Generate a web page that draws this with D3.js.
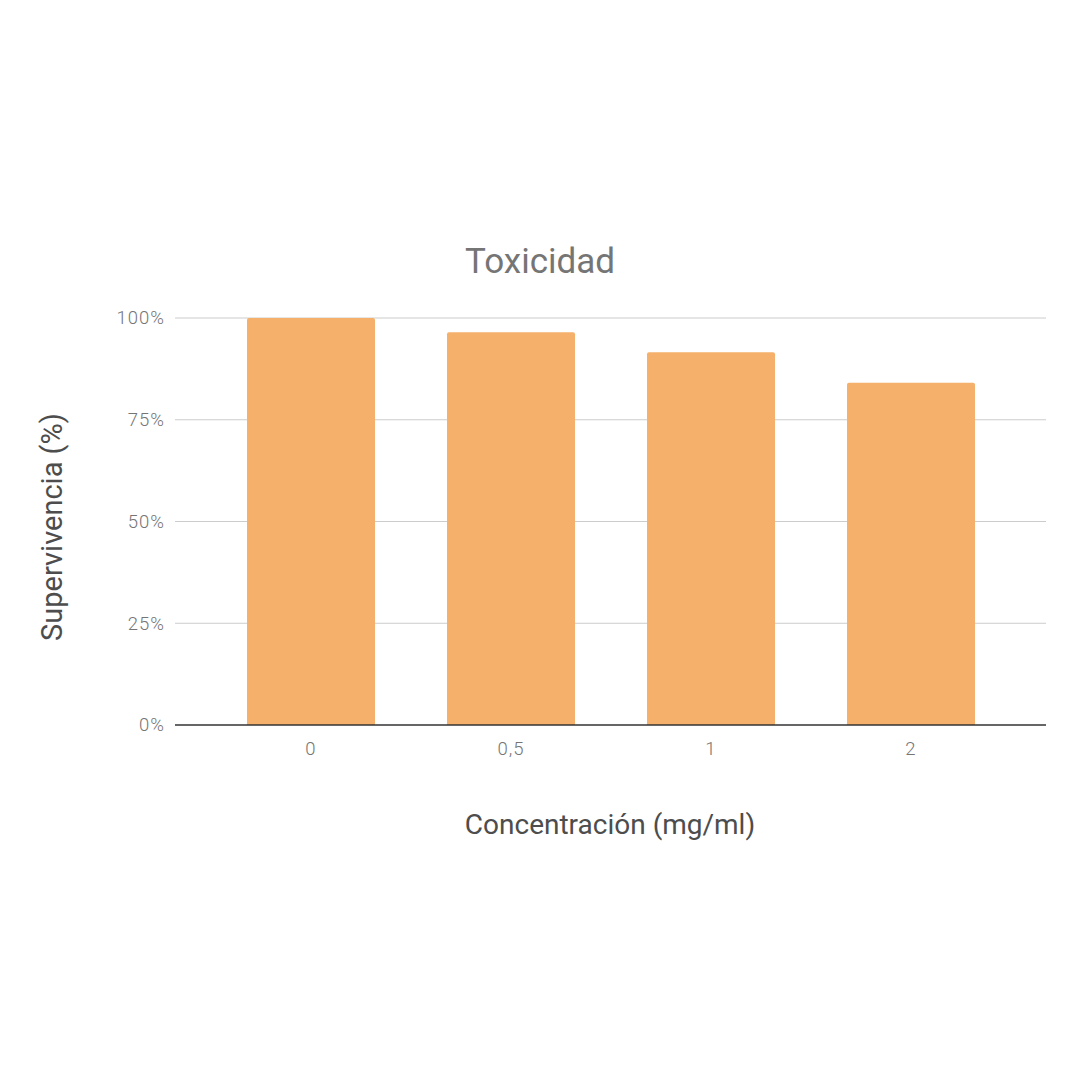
<!DOCTYPE html>
<html><head><meta charset="utf-8">
<script src="https://cdn.jsdelivr.net/npm/d3@7"></script>
<style>html,body{margin:0;padding:0;background:#fff;}svg{display:block;font-family:Roboto,"Noto Sans",sans-serif;}</style>
</head><body>
<svg id="chart" width="1080" height="1080"></svg>
<script>
const categories = ["0", "0,5", "1", "2"];
const values = [100, 96.5, 91.6, 84.1];
const yTicks = [0, 25, 50, 75, 100];
const title = "Toxicidad";
const xTitle = "Concentración (mg/ml)";
const yTitle = "Supervivencia (%)";

(function () {
const svg = d3.select("#chart");
const plotLeft = 175, plotRight = 1046, plotTop = 318, plotBottom = 725;

const x = d3.scaleBand().domain(categories).range([211, 1011]).paddingInner(0.36).paddingOuter(0.18);
const y = d3.scaleLinear().domain([0, 100]).range([plotBottom, plotTop]);

// gridlines
svg.append("g").selectAll("line").data(yTicks.filter(d => d !== 0)).join("line")
  .attr("x1", plotLeft).attr("x2", plotRight)
  .attr("y1", d => y(d)).attr("y2", d => y(d))
  .attr("stroke", "#cccccc").attr("stroke-width", 1);

// y labels
svg.append("g").selectAll("text").data(yTicks).join("text")
  .attr("x", 165).attr("y", d => y(d)).attr("dy", "0.35em")
  .attr("text-anchor", "end").attr("font-size", 18.5).attr("font-weight", 300).attr("fill", "#757575")
  .attr("letter-spacing", 1)
  .text(d => d + "%");

// bars
const bw = x.bandwidth();
svg.append("g").selectAll("path").data(values).join("path")
  .attr("fill", "#f5b06b")
  .attr("d", (d, i) => {
    const x0 = x(categories[i]), y0 = y(d), r = 2;
    return `M${x0},${plotBottom}V${y0 + r}Q${x0},${y0} ${x0 + r},${y0}H${x0 + bw - r}Q${x0 + bw},${y0} ${x0 + bw},${y0 + r}V${plotBottom}Z`;
  });

// baseline
svg.append("line").attr("x1", plotLeft).attr("x2", plotRight)
  .attr("y1", y(0)).attr("y2", y(0)).attr("stroke", "#333333").attr("stroke-width", 1.5);

// x labels
svg.append("g").selectAll("text").data(categories).join("text")
  .attr("x", d => x(d) + bw / 2).attr("y", 755)
  .attr("text-anchor", "middle").attr("font-size", 18.5).attr("font-weight", 300).attr("fill", "#757575")
  .attr("letter-spacing", 1)
  .text(d => d);

svg.append("text").attr("x", 540).attr("y", 273).attr("text-anchor", "middle")
  .attr("font-size", 35).attr("fill", "#757575").text(title);

svg.append("text").attr("x", 610).attr("y", 834).attr("text-anchor", "middle")
  .attr("font-size", 28).attr("fill", "#4d4d4d").text(xTitle);

svg.append("text").attr("transform", "translate(62,527) rotate(-90)").attr("text-anchor", "middle")
  .attr("font-size", 29).attr("fill", "#4d4d4d").text(yTitle);
})();
</script>
</body></html>
